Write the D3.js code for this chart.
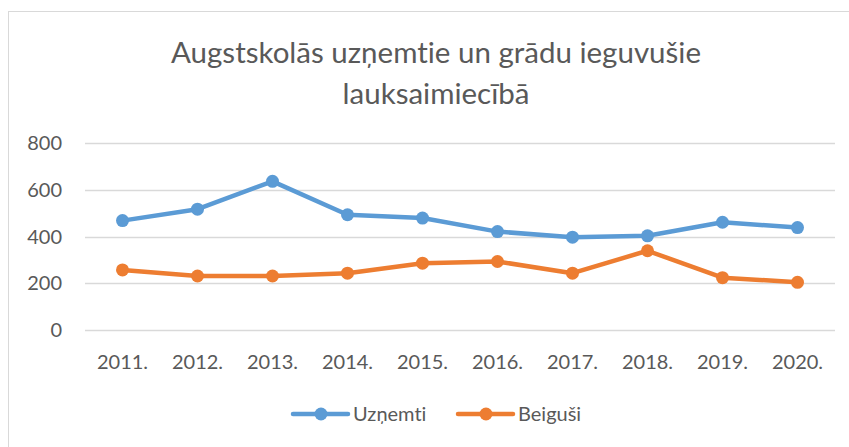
<!DOCTYPE html>
<html>
<head>
<meta charset="utf-8">
<script src="https://cdn.jsdelivr.net/npm/d3@7"></script>
<style>
  body { margin: 0; background: #fff; }
  text { font-family: Lato, "Open Sans", sans-serif; fill: #595959; font-variant-ligatures: none; }
</style>
</head>
<body>
<svg id="chart" width="849" height="447"></svg>
<script>
// data
const years = ["2011.", "2012.", "2013.", "2014.", "2015.", "2016.", "2017.", "2018.", "2019.", "2020."];
const uznemti = [468, 517, 636, 493, 479, 421, 397, 403, 461, 438];
const beigusi = [257, 231, 231, 243, 286, 293, 243, 339, 224, 204];
const yTicks = [0, 200, 400, 600, 800];
const titleLines = ["Augstskolās uzņemtie un grādu ieguvušie", "lauksaimiecībā"];

const series = [
    {name: "Uzņemti", values: uznemti, color: "#5b9bd5"},
    {name: "Beiguši", values: beigusi, color: "#ed7d31"}
];

const svg = d3.select("#chart");
const width = 849, height = 447;
const margin = {top: 143, right: 14, bottom: 117, left: 85};

// chart border
svg.append("rect")
    .attr("x", 8.5).attr("y", 11.5)
    .attr("width", width).attr("height", height)
    .attr("fill", "none")
    .attr("stroke", "#d9d9d9");

// title
svg.append("text")
    .attr("text-anchor", "middle")
    .attr("font-size", 29.5)
    .selectAll("tspan")
    .data(titleLines)
    .join("tspan")
    .attr("x", 436)
    .attr("y", (d, i) => 63 + i * 41)
    .text(d => d);

let x = d3.scaleBand()
    .domain(years)
    .range([margin.left, width - margin.right]);

let y = d3.scaleLinear()
    .domain([0, 800])
    .range([height - margin.bottom, margin.top]);

// gridlines
svg.append("g")
    .selectAll("line")
    .data(yTicks)
    .join("line")
    .attr("x1", margin.left)
    .attr("x2", width - margin.right)
    .attr("y1", d => Math.round(y(d)) + 0.5)
    .attr("y2", d => Math.round(y(d)) + 0.5)
    .attr("stroke", "#d9d9d9")
    .attr("stroke-width", 1.3);

// y labels
svg.append("g")
    .selectAll("text")
    .data(yTicks)
    .join("text")
    .attr("x", 62)
    .attr("y", d => y(d))
    .attr("dy", "0.35em")
    .attr("text-anchor", "end")
    .attr("font-size", 20)
    .text(d => d);

// x labels
svg.append("g")
    .selectAll("text")
    .data(years)
    .join("text")
    .attr("x", d => x(d) + x.bandwidth() / 2)
    .attr("y", 369)
    .attr("text-anchor", "middle")
    .attr("font-size", 20)
    .text(d => d);

let line = d3.line()
    .x((d, i) => x(years[i]) + x.bandwidth() / 2)
    .y(d => y(d));

series.forEach(function(s) {
    let g = svg.append("g");
    g.append("path")
        .attr("d", line(s.values))
        .attr("fill", "none")
        .attr("stroke", s.color)
        .attr("stroke-width", 4.5)
        .attr("stroke-linejoin", "round")
        .attr("stroke-linecap", "round");
    g.selectAll("circle")
        .data(s.values)
        .join("circle")
        .attr("cx", (d, i) => x(years[i]) + x.bandwidth() / 2)
        .attr("cy", d => y(d))
        .attr("r", 6.5)
        .attr("fill", s.color);
});

// legend
let legendX = [293, 458];
let legend = svg.append("g")
    .selectAll("g")
    .data(series)
    .join("g")
    .attr("transform", (d, i) => "translate(" + legendX[i] + ",414)");

legend.append("line")
    .attr("x1", 0).attr("x2", 55)
    .attr("stroke", d => d.color)
    .attr("stroke-width", 4.5)
    .attr("stroke-linecap", "round");
legend.append("circle")
    .attr("cx", 28)
    .attr("r", 6.5)
    .attr("fill", d => d.color);
legend.append("text")
    .attr("x", 60)
    .attr("dy", "0.35em")
    .attr("font-size", 20)
    .text(d => d.name);
</script>
</body>
</html>
